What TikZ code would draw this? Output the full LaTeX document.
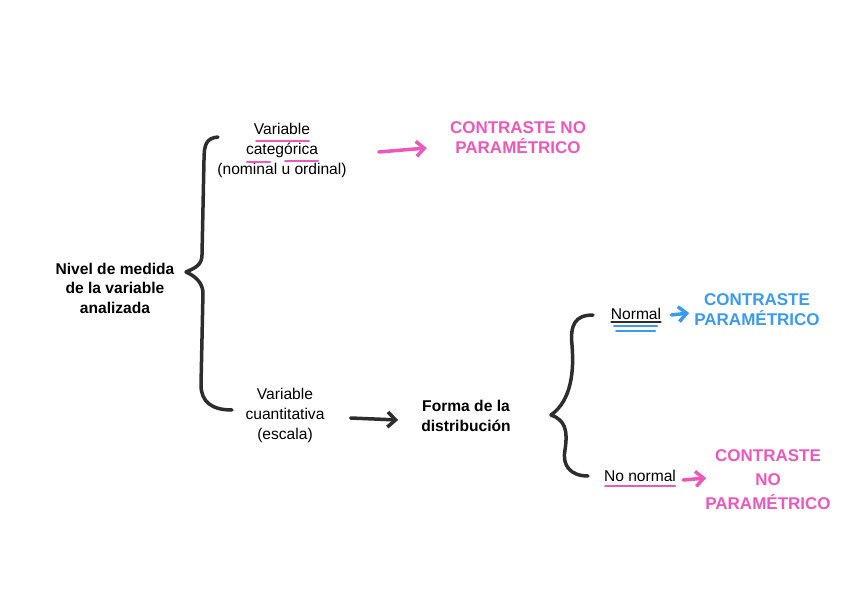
\documentclass[tikz,border=0pt]{standalone}
\usepackage{fontspec}
\setmainfont{Liberation Sans}
\usetikzlibrary{arrows.meta,positioning}
\definecolor{rosa}{RGB}{238,88,186}
\definecolor{azul}{RGB}{58,155,240}
\definecolor{tinta}{RGB}{45,45,45}
\tikzset{
	txt/.style={align=center,text=black,font=\fontsize{15.6}{20}\selectfont,inner sep=1pt},
	neg/.style={txt,font=\fontsize{15.6}{19.5}\selectfont\bfseries},
	mano/.style={align=center,font=\fontsize{17}{20}\selectfont\bfseries,inner sep=1pt},
	llave/.style={draw=tinta,line width=3.5pt,line cap=round,line join=round},
	flecha/.style={line width=3.5pt,line cap=round,line join=round,-{Straight Barb[length=8pt,width=15pt]}},
	raya/.style={line width=2pt,line cap=round},
}

\begin{document}
\begin{tikzpicture}[x=1pt,y=-1pt]
	\useasboundingbox[fill=white] (0,0) rectangle (848,599);
	% textos
	\node[neg](nivel) at (115,288){Nivel de medida\\de la variable\\analizada};
	\node[txt](cat) at (282,150){Variable\\categórica\\(nominal u ordinal)};
	\node[txt](cuan) at (285,415){Variable\\cuantitativa\\(escala)};
	\node[neg](forma) at (466,416){Forma de la\\distribución};
	\node[txt](normal) at (636,314){Normal};
	\node[txt](nonormal) at (640,476){No normal};
	\node[mano,text=rosa](cnp) at (518,138){CONTRASTE NO\\PARAMÉTRICO};
	\node[mano,text=azul](cp) at (757,310){CONTRASTE\\PARAMÉTRICO};
	\node[mano,text=rosa,font=\fontsize{17}{24}\selectfont\bfseries](cnpb) at (768,480){CONTRASTE\\NO\\PARAMÉTRICO};
	% llaves
	\draw[llave] (218,137) .. controls (206,138) and (204,145) .. (204,160)
		-- (202,255) .. controls (202,265) and (195,268) .. (186,272)
		.. controls (195,276) and (202,282) .. (203,292)
		-- (201,385) .. controls (201,402) and (212,410) .. (232,410);
	\draw[llave] (593,315) .. controls (575,315) and (570,325) .. (572,345)
		.. controls (574,370) and (572,400) .. (551,415)
		.. controls (565,420) and (568,430) .. (565,450)
		.. controls (562,465) and (570,476) .. (588,476);
	% flechas
	\draw[flecha,rosa] ([shift={(31,2)}]cat.east) -- ([shift={(-22,10)}]cnp.west);
	\draw[flecha,tinta] ([shift={(25,3)}]cuan.east) -- ([shift={(-22,4)}]forma.west);
	\draw[flecha,azul] ([shift={(9,1)}]normal.east) -- ([shift={(-4,3)}]cp.west);
	\draw[flecha,rosa] ([shift={(6,4)}]nonormal.east) -- ([shift={(29,2)}]nonormal.east);
	% subrayados
	\draw[raya,rosa] (256,141) -- (309,141);
	\draw[raya,rosa] (247,162) -- (270,162);
	\draw[raya,rosa] (285,161) -- (318,161);
	\draw[raya,tinta,line width=1.2pt] (611,322) -- (661,322);
	\draw[raya,azul] (614,326) -- (657,326);
	\draw[raya,azul] (616,331) -- (655,331);
	\draw[raya,rosa] (605,486) -- (675,486);
\end{tikzpicture}
\end{document}
